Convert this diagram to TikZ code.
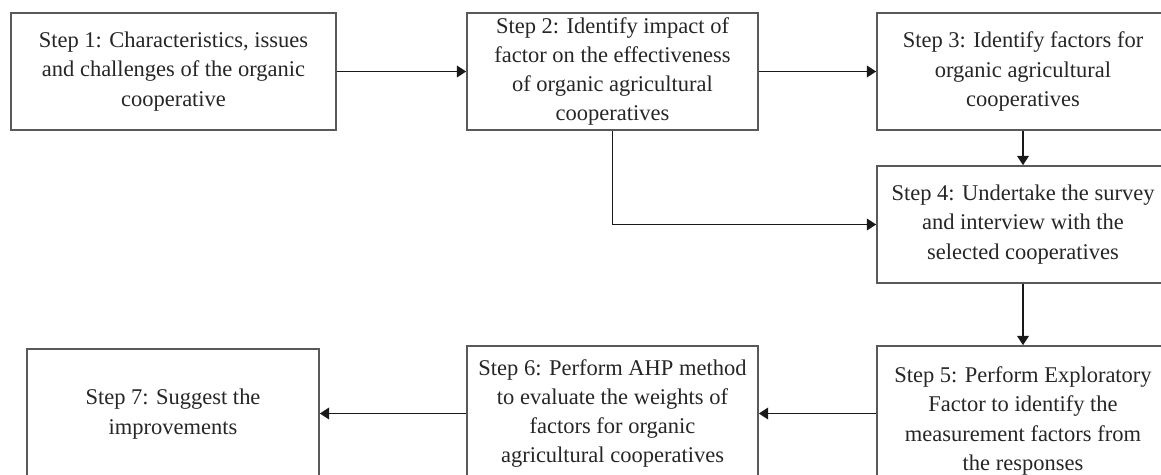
\documentclass[tikz,border=0pt]{standalone}
\usepackage{fontspec}
\setmainfont{Liberation Serif}
\usetikzlibrary{arrows.meta}

\begin{document}
\begin{tikzpicture}[x=0.03cm,y=-0.03cm,
    stepbox/.style={draw=black!65,line width=1.4pt,align=center,inner sep=0pt,
      text=black!85,font=\fontsize{19.2}{25}\selectfont},
    >={Triangle[length=8pt,width=10pt]}]
  \useasboundingbox (0,0) rectangle (1161,474);
  \draw
    (173.5,71.5) node[stepbox,minimum width=9.75cm,minimum height=3.51cm] (s1)
      {Step 1: Characteristics, issues\\and challenges of the organic\\cooperative}
    (612.5,71.5) node[stepbox,minimum width=8.73cm,minimum height=3.51cm] (s2)
      {Step 2: Identify impact of\\factor on the effectiveness\\of organic agricultural\\cooperatives}
    (1023,71.5) node[stepbox,minimum width=8.76cm,minimum height=3.51cm] (s3)
      {Step 3: Identify factors for\\organic agricultural\\cooperatives}
    (1023,224.5) node[stepbox,minimum width=8.76cm,minimum height=3.51cm] (s4)
      {Step 4: Undertake the survey\\and interview with the\\selected cooperatives}
    (1023,421) node[stepbox,minimum width=8.76cm,minimum height=4.5cm] (s5)
      {Step 5: Perform Exploratory\\Factor to identify the\\measurement factors from\\the responses}
    (612.5,413.5) node[stepbox,minimum width=8.73cm,minimum height=4.05cm] (s6)
      {Step 6: Perform AHP method\\to evaluate the weights of\\factors for organic\\agricultural cooperatives}
    (173,414) node[stepbox,minimum width=8.76cm,minimum height=3.9cm] (s7)
      {Step 7: Suggest the\\improvements};
  \begin{scope}[->,line width=1.4pt,black!90]
    \draw (s1) -- (s2);
    \draw (s2) -- (s3);
    \draw (s2.south) |- (s4.west);
    \draw (s3) -- (s4);
    \draw (s4) -- (s5);
    \draw (s5.west |- s6.east) -- (s6.east);
    \draw (s6.west) -- (s7.east |- s6.west);
  \end{scope}
\end{tikzpicture}
\end{document}
